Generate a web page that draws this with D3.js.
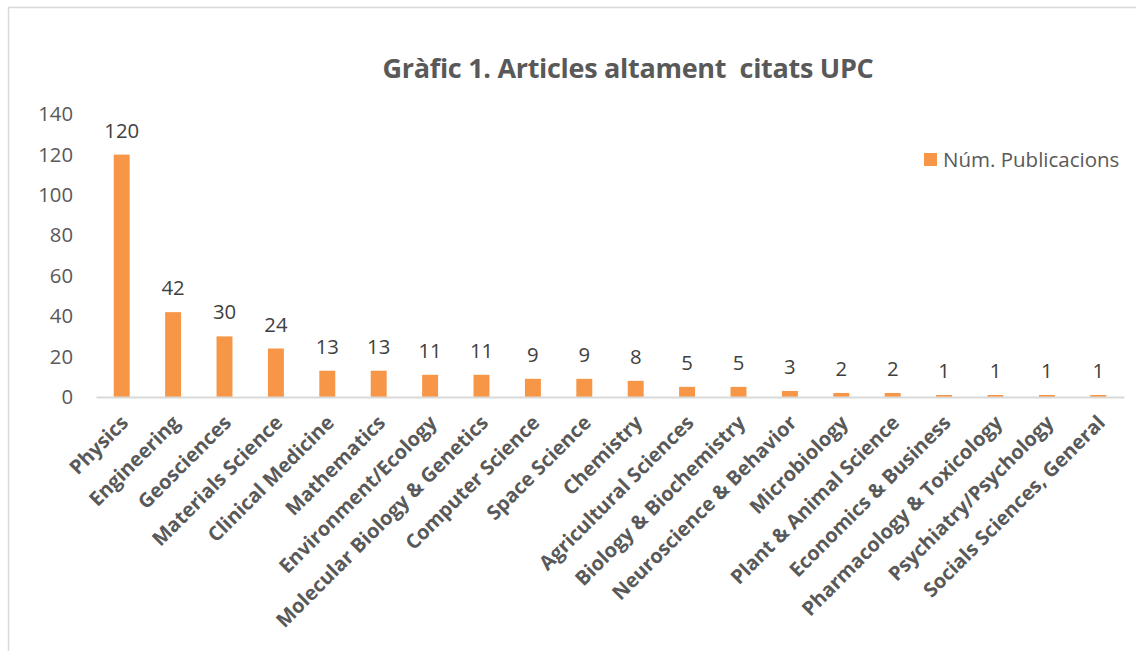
<!DOCTYPE html>
<html>
<head>
<meta charset="utf-8">
<script src="https://cdn.jsdelivr.net/npm/d3@7"></script>
<style>
  html, body { margin: 0; padding: 0; background: #fff; }
  svg { display: block; }
</style>
</head>
<body>
<svg id="chart" width="1136" height="651"></svg>
<script>
const categories = ["Physics", "Engineering", "Geosciences", "Materials Science", "Clinical Medicine",
  "Mathematics", "Environment/Ecology", "Molecular Biology & Genetics", "Computer Science", "Space Science",
  "Chemistry", "Agricultural Sciences", "Biology & Biochemistry", "Neuroscience & Behavior", "Microbiology",
  "Plant & Animal Science", "Economics & Business", "Pharmacology & Toxicology", "Psychiatry/Psychology",
  "Socials Sciences, General"];
const values = [120, 42, 30, 24, 13, 13, 11, 11, 9, 9, 8, 5, 5, 3, 2, 2, 1, 1, 1, 1];
const yTicks = [0, 20, 40, 60, 80, 100, 120, 140];
const seriesName = "Núm. Publicacions";
const titleText = "Gràfic 1. Articles altament  citats UPC";

const svg = d3.select("#chart");
const font = "'Open Sans', 'Liberation Sans', sans-serif";

// chart border
svg.append("rect").attr("x", 8.5).attr("y", 7.5).attr("width", 1140).attr("height", 660)
  .attr("fill", "#fff").attr("stroke", "#d9d9d9").attr("stroke-width", 1.5);

const x = d3.scaleBand().domain(categories).range([96, 1124]).paddingInner(0.69).paddingOuter(0.345);
const y = d3.scaleLinear().domain([0, 140]).range([397, 114.2]);

// title
svg.append("text").attr("x", 628).attr("y", 78).attr("text-anchor", "middle")
  .attr("font-family", font).attr("font-weight", "bold").attr("font-size", 27)
  .attr("letter-spacing", -0.3).style("white-space", "pre")
  .attr("fill", "#595959").text(titleText);

// y axis labels
const yAxis = d3.axisLeft(y).tickValues(yTicks).tickSize(0).tickPadding(0);
const yg = svg.append("g").attr("transform", "translate(73,0)").call(yAxis);
yg.select(".domain").remove();
yg.selectAll("text").attr("font-family", font).attr("font-size", 20.3).attr("fill", "#595959");

// bars
svg.append("g").selectAll("rect").data(values).join("rect")
  .attr("x", (d, i) => x(categories[i]))
  .attr("width", x.bandwidth())
  .attr("y", d => y(d))
  .attr("height", d => y(0) - y(d))
  .attr("fill", "#f79646");

// x axis
const xAxis = d3.axisBottom(x).tickSize(0).tickPadding(0);
const xg = svg.append("g").attr("transform", `translate(0,${y(0)})`).call(xAxis);
xg.select(".domain").attr("stroke", "#d9d9d9").attr("stroke-width", 2);
xg.selectAll("text")
  .attr("font-family", font).attr("font-weight", "bold").attr("font-size", 20).attr("fill", "#595959")
  .attr("text-anchor", "end")
  .attr("transform", "translate(3,22) rotate(-45)")
  .attr("dy", "0.35em").attr("y", 0).attr("x", 0);

// data labels
svg.append("g").selectAll("text").data(values).join("text")
  .attr("x", (d, i) => x(categories[i]) + x.bandwidth() / 2)
  .attr("y", d => y(d) - 17)
  .attr("text-anchor", "middle")
  .attr("font-family", font).attr("font-size", 20.3).attr("fill", "#404040")
  .text(d => d);

// legend
const lg = svg.append("g");
lg.append("rect").attr("x", 924).attr("y", 153).attr("width", 13).attr("height", 13).attr("fill", "#f79646");
lg.append("text").attr("x", 943).attr("y", 167).attr("font-family", font).attr("font-size", 20.5)
  .attr("fill", "#595959").text(seriesName);
</script>
</body>
</html>
